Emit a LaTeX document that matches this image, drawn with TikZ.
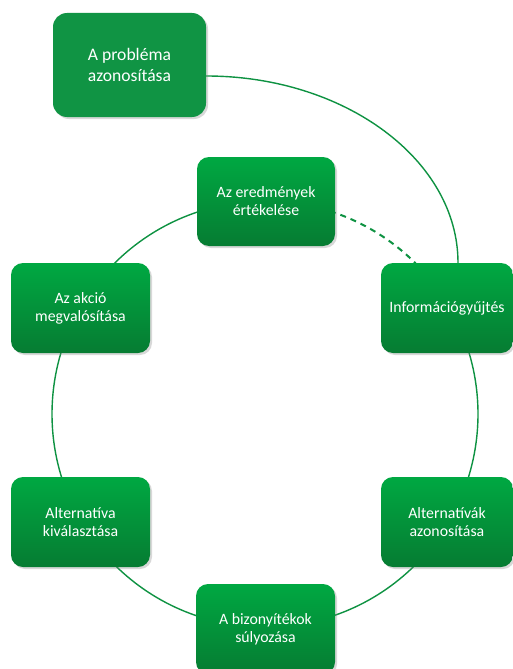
\documentclass[tikz,border=0pt]{standalone}
\usepackage{fontspec}
\setmainfont{Carlito}
\usetikzlibrary{shadows,backgrounds}
\definecolor{flatgreen}{RGB}{16,148,68}
\definecolor{topgreen}{RGB}{0,168,66}
\definecolor{botgreen}{RGB}{6,124,50}
\definecolor{linegreen}{RGB}{14,146,66}
\tikzset{
  basebox/.style={rounded corners=12pt, inner sep=2pt, align=center, text=white,
    drop shadow={opacity=0.3, shadow xshift=2pt, shadow yshift=-2pt}},
  gbox/.style={basebox, top color=topgreen, bottom color=botgreen, draw=none,
    font=\fontsize{15.8}{18}\selectfont},
  fbox/.style={basebox, fill=flatgreen, draw=none, rounded corners=14pt,
    font=\fontsize{17.6}{21}\selectfont},
  ring/.style={linegreen, line width=1.4pt},
  dashring/.style={linegreen, line width=2pt, dash pattern=on 6pt off 5pt},
}
\begin{document}
\begin{tikzpicture}[x=1pt,y=-1pt]
\useasboundingbox (0,0) rectangle (513,669);
\node[fbox, minimum width=153pt, minimum height=104pt] (prob) at (129.5,65) {A probléma\\azonosítása};
\node[gbox, minimum width=138pt, minimum height=89pt] (eval) at (266,201.5) {Az eredmények\\értékelése};
\node[gbox, minimum width=132pt, minimum height=90pt] (info) at (447,308) {Információgyűjtés};
\node[gbox, minimum width=139pt, minimum height=90pt] (akcio) at (80.5,308) {Az akció\\megvalósítása};
\node[gbox, minimum width=139pt, minimum height=90pt] (altkiv) at (80.5,522) {Alternatíva\\kiválasztása};
\node[gbox, minimum width=132pt, minimum height=90pt] (altaz) at (447,522) {Alternatívák\\azonosítása};
\node[gbox, minimum width=139pt, minimum height=90pt] (biz) at (265.5,629) {A bizonyítékok\\súlyozása};
\coordinate (c) at (265,414);
\coordinate (pa) at ([yshift=-11pt]prob.east);
\coordinate (ia) at ([xshift=11pt]info.north);
\begin{scope}[on background layer]
  \fill[white] (0,0) rectangle (513,669);
  \draw[ring] (c) ++(-45:213) arc[start angle=-45, end angle=270, radius=213];
  \draw[dashring] (c) ++(-90:213) arc[start angle=-90, end angle=-45, radius=213];
  \draw[ring] (pa) .. controls (345,76) and (458,160) .. (ia);
\end{scope}
\end{tikzpicture}
\end{document}
